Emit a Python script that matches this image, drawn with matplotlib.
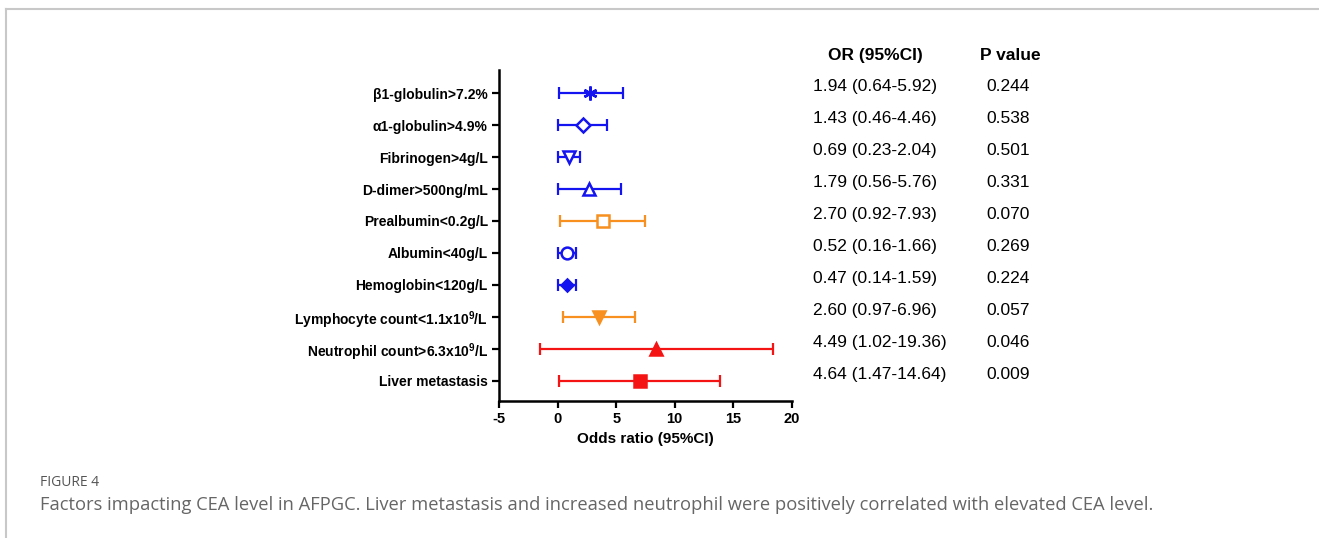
import matplotlib
matplotlib.use("Agg")
import matplotlib.pyplot as plt
from matplotlib.lines import Line2D
from matplotlib.transforms import blended_transform_factory

plt.rcParams["font.family"] = ["Liberation Sans", "DejaVu Sans"]
plt.rcParams["mathtext.default"] = "regular"
plt.rcParams["axes.unicode_minus"] = False

# rows from top to bottom
labels = [
    "β1-globulin>7.2%",
    "α1-globulin>4.9%",
    "Fibrinogen>4g/L",
    "D-dimer>500ng/mL",
    "Prealbumin<0.2g/L",
    "Albumin<40g/L",
    "Hemoglobin<120g/L",
    "Lymphocyte count<1.1x10$^{9}$/L",
    "Neutrophil count>6.3x10$^{9}$/L",
    "Liver metastasis",
]
# values as drawn in the plot
point = [2.8, 2.15, 1.0, 2.7, 3.9, 0.8, 0.8, 3.5, 8.4, 7.0]
low = [0.1, 0.05, 0.05, 0.0, 0.2, 0.0, 0.0, 0.45, -1.5, 0.1]
high = [5.6, 4.25, 1.95, 5.45, 7.5, 1.6, 1.55, 6.65, 18.35, 13.85]
or_text = ["1.94 (0.64-5.92)", "1.43 (0.46-4.46)", "0.69 (0.23-2.04)", "1.79 (0.56-5.76)",
           "2.70 (0.92-7.93)", "0.52 (0.16-1.66)", "0.47 (0.14-1.59)", "2.60 (0.97-6.96)",
           "4.49 (1.02-19.36)", "4.64 (1.47-14.64)"]
p_text = ["0.244", "0.538", "0.501", "0.331", "0.070", "0.269", "0.224", "0.057", "0.046", "0.009"]

BLUE, ORANGE, RED = "#1414f0", "#f7901e", "#f51414"
colors = [BLUE, BLUE, BLUE, BLUE, ORANGE, BLUE, BLUE, ORANGE, RED, RED]
markers = [(6, 2, 0), "D", "v", "^", "s", "o", "D", "v", "^", "s"]
filled = [True, False, False, False, False, False, True, True, True, True]
msizes = [10, 7, 9, 9, 8, 8.5, 6.5, 9, 9, 9]

fig = plt.figure(figsize=(13.19, 5.38), dpi=100)
ax = fig.add_axes([0.3783, 0.2546, 0.2221, 0.6152])

n = len(labels)
ys = list(range(n, 0, -1))
for i in range(n):
    c = colors[i]
    ax.errorbar(point[i], ys[i], xerr=[[point[i] - low[i]], [high[i] - point[i]]],
                fmt="none", ecolor=c, elinewidth=1.6, capsize=4.5, capthick=1.6)
    ax.plot(point[i], ys[i], marker=markers[i], ms=msizes[i], color=c,
            mfc=c if filled[i] else "white", mec=c, mew=1.8, linestyle="none")

ax.set_xlim(-5, 20)
ax.set_ylim(0.37, 10.72)
ax.set_xticks([-5, 0, 5, 10, 15, 20])
ax.set_yticks(ys)
ax.set_yticklabels(labels, fontsize=10, fontweight="bold")
for t in ax.get_xticklabels():
    t.set_fontweight("bold")
    t.set_fontsize(10.5)
ax.set_xlabel("Odds ratio (95%CI)", fontsize=11, fontweight="bold", labelpad=4)
for s in ["top", "right"]:
    ax.spines[s].set_visible(False)
for s in ["left", "bottom"]:
    ax.spines[s].set_linewidth(1.8)
ax.tick_params(axis="both", length=5, width=1.6, pad=3, colors="black")

# table on the right
tr = blended_transform_factory(fig.transFigure, ax.transData)
fig.text(0.6634, 11.19, "OR (95%CI)", transform=tr, ha="center", va="center",
         fontsize=12.5, fontweight="bold")
fig.text(0.7660, 11.19, "P value", transform=tr, ha="center", va="center",
         fontsize=12.5, fontweight="bold")
for i in range(n):
    fig.text(0.6164, ys[i] + 0.19, or_text[i], transform=tr, ha="left", va="center", fontsize=12.5)
    fig.text(0.7475, ys[i] + 0.19, p_text[i], transform=tr, ha="left", va="center", fontsize=12.5)

# page frame and caption
fig.add_artist(Line2D([6 / 1319, 6 / 1319], [0, 1 - 9 / 538], transform=fig.transFigure,
                      color="#c8c8c8", lw=1.5))
fig.add_artist(Line2D([6 / 1319, 1], [1 - 9 / 538, 1 - 9 / 538], transform=fig.transFigure,
                      color="#c8c8c8", lw=1.5))
fig.text(40 / 1319, 1 - 482 / 538, "FIGURE 4", ha="left", va="center", fontsize=10,
         color="#555555", family=["Open Sans", "DejaVu Sans"])
fig.text(40 / 1319, 1 - 505 / 538,
         "Factors impacting CEA level in AFPGC. Liver metastasis and increased neutrophil "
         "were positively correlated with elevated CEA level.",
         ha="left", va="center", fontsize=13.2, color="#666666", family=["Open Sans", "DejaVu Sans"])

fig.savefig("out.png", dpi=100)
